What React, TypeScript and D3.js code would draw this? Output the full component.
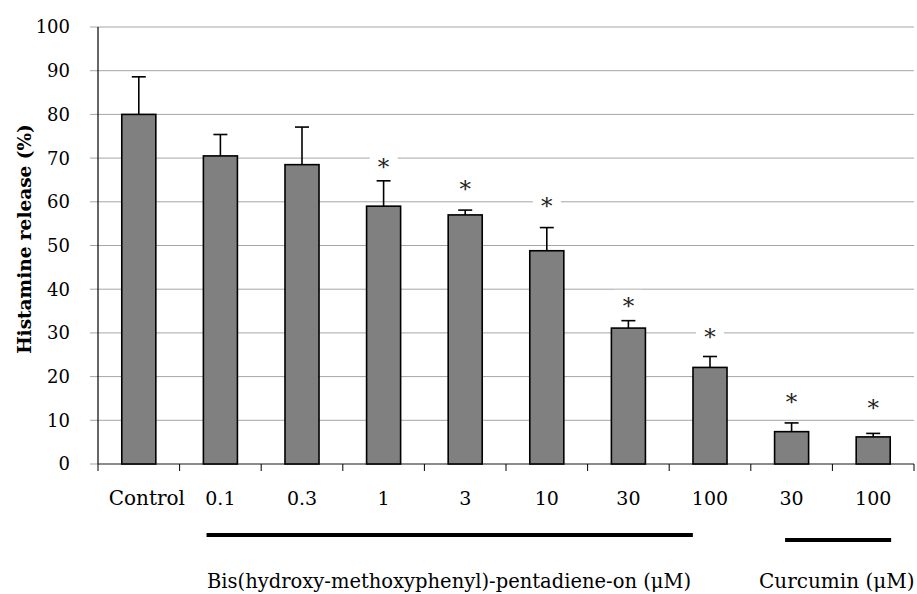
import React from "react";
import * as d3 from "d3";

const categories = ["Control", "0.1", "0.3", "1", "3", "10", "30", "100", "30 ", "100 "];
const tickLabels = ["Control", "0.1", "0.3", "1", "3", "10", "30", "100", "30", "100"];
const means = [80.0, 70.5, 68.5, 59.0, 57.0, 48.8, 31.1, 22.1, 7.4, 6.2];
const errors = [8.6, 4.9, 8.6, 5.8, 1.1, 5.3, 1.7, 2.5, 2.0, 0.8];
const starCategories = ["1", "3", "10", "30", "100", "30 ", "100 "];
const starValues = [69.6, 64.6, 60.6, 37.8, 30.7, 15.8, 14.5];
const yTicks = [0, 10, 20, 30, 40, 50, 60, 70, 80, 90, 100];
const yTitle = "Histamine release (%)";
const groupLabels = ["Bis(hydroxy-methoxyphenyl)-pentadiene-on (\u03bcM)", "Curcumin (\u03bcM)"];

const W = 917;
const H = 594;
const left = 98;
const right = 914;
const top = 27;
const bottom = 464;
const FONT = "'DejaVu Serif', serif";

export default function App() {
  const x = d3.scaleBand<string>().domain(categories).range([left, right]).paddingInner(0).paddingOuter(0);
  const y = d3.scaleLinear().domain([0, 100]).range([bottom, top]);
  const bw = x.bandwidth();
  const barW = bw * 0.417;

  const bisStart = (x(categories[1]) as number) + bw * 0.33;
  const bisEnd = (x(categories[7]) as number) + bw * 0.29;
  const curStart = (x(categories[8]) as number) + bw * 0.42;
  const curEnd = (x(categories[9]) as number) + bw * 0.72;

  return (
    <svg width={W} height={H} style={{ position: "absolute", left: 0, top: 0, background: "#fff" }}>
      {yTicks.map((t) => (
        <line key={"g" + t} x1={left - 8} x2={right} y1={y(t)} y2={y(t)} stroke="#a6a6a6" strokeWidth={1} />
      ))}
      <line x1={left} x2={left} y1={top} y2={bottom} stroke="#000" strokeWidth={1.2} />
      <line x1={left} x2={right} y1={bottom} y2={bottom} stroke="#444" strokeWidth={1.2} />
      {categories.map((c) => (
        <line key={"xt" + c} x1={x(c) as number} x2={x(c) as number} y1={bottom} y2={bottom + 7} stroke="#000" strokeWidth={1} />
      ))}
      <line x1={right} x2={right} y1={bottom} y2={bottom + 7} stroke="#000" strokeWidth={1} />
      {yTicks.map((t) => (
        <text key={"yl" + t} x={70} y={y(t)} dy="0.36em" textAnchor="end" fontFamily={FONT} fontSize={18} fill="#000">
          {t}
        </text>
      ))}
      {starCategories.map((c, i) => {
        const cx = (x(c) as number) + bw / 2;
        const cy = y(starValues[i]);
        return (
          <g key={"s" + i}>
            <rect x={cx - 14} y={cy - 9} width={28} height={18} fill="#fff" />
            <text x={cx} y={cy} dy="0.66em" textAnchor="middle" fontFamily={FONT} fontSize={23} fill="#222">
              *
            </text>
          </g>
        );
      })}
      {categories.map((c, i) => {
        const cx = (x(c) as number) + bw / 2;
        return (
          <g key={"e" + i}>
            <line x1={cx} x2={cx} y1={y(means[i])} y2={y(means[i] + errors[i])} stroke="#000" strokeWidth={1.6} />
            <line x1={cx - 7} x2={cx + 7} y1={y(means[i] + errors[i])} y2={y(means[i] + errors[i])} stroke="#000" strokeWidth={1.6} />
          </g>
        );
      })}
      {categories.map((c, i) => (
        <rect
          key={"b" + i}
          x={(x(c) as number) + (bw - barW) / 2}
          y={y(means[i])}
          width={barW}
          height={bottom - y(means[i])}
          fill="#808080"
          stroke="#000"
          strokeWidth={1.6}
        />
      ))}
      {categories.map((c, i) => (
        <text key={"xl" + i} x={(x(c) as number) + bw / 2 + (i === 0 ? 8 : 0)} y={505} textAnchor="middle" fontFamily={FONT} fontSize={i === 0 ? 20 : 19} fill="#000">
          {tickLabels[i]}
        </text>
      ))}
      <line x1={bisStart} x2={bisEnd} y1={535} y2={535} stroke="#000" strokeWidth={4} />
      <line x1={curStart} x2={curEnd} y1={540} y2={540} stroke="#000" strokeWidth={4} />
      <text x={207} y={588} fontFamily={FONT} fontSize={19.5} fill="#000">
        {groupLabels[0]}
      </text>
      <text x={759} y={588} fontFamily={FONT} fontSize={20} fill="#000">
        {groupLabels[1]}
      </text>
      <text transform={`translate(31, 239) rotate(-90)`} textAnchor="middle" fontFamily={FONT} fontWeight="bold" fontSize={18.5} fill="#000">
        {yTitle}
      </text>
    </svg>
  );
}
